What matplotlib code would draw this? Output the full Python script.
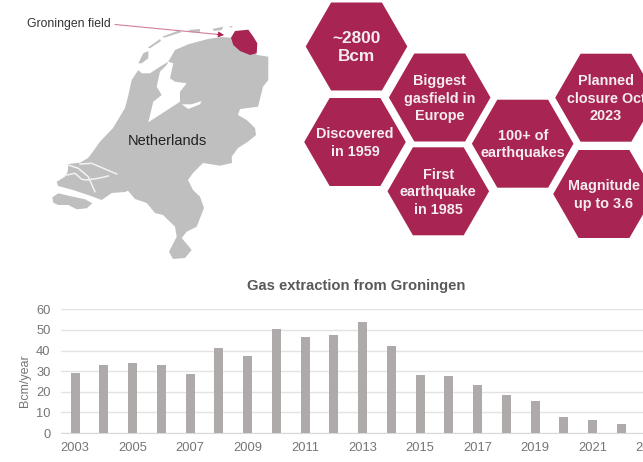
import matplotlib
matplotlib.use("Agg")
import matplotlib.pyplot as plt
from matplotlib.patches import Polygon, RegularPolygon

plt.rcParams["font.family"] = ["Liberation Sans", "DejaVu Sans"]

years = list(range(2003, 2023))
extraction = [29.1, 32.8, 33.8, 33.2, 28.8, 41.3, 37.5, 50.6, 46.8, 47.7,
              54.0, 42.4, 28.0, 27.5, 23.5, 18.6, 15.4, 7.8, 6.3, 4.4]
tick_years = list(range(2003, 2024, 2))
y_ticks = [0, 10, 20, 30, 40, 50, 60]

hex_labels = ["~2800\nBcm", "Biggest\ngasfield in\nEurope", "Discovered\nin 1959",
              "First\nearthquake\nin 1985", "100+ of\nearthquakes",
              "Planned\nclosure Oct\n2023", "Magnitude\nup to 3.6"]
hex_x = [356.5, 439.7, 355, 438.3, 522.7, 606, 604]
hex_y = [46.5, 97.5, 142, 191.3, 143.7, 97.7, 194]
hex_size = [12.4, 10.4, 10.4, 10.4, 10.4, 10.4, 10.4]

# map outlines, traced in pixels
main_land = [(168.3, 61.7), (175, 50), (188.3, 44.3), (208, 39), (221.7, 37), (231, 37.7),
             (257.3, 55), (268.3, 56.7), (268.3, 80), (263, 86.7), (258, 106.7), (240, 109),
             (238, 115), (246.7, 120), (255, 128), (256, 135), (248, 141.7), (238, 148),
             (231.7, 156.7), (232, 163), (220, 165.7), (203, 163), (193, 173), (188, 180),
             (193, 190), (200, 196.7), (204, 208), (196.7, 226.7), (186.7, 231.7),
             (181.7, 238), (191.7, 250), (185, 258), (173, 259), (169, 251.7), (176.7, 236.7),
             (175, 226.7), (163, 215), (155, 213), (146.7, 203), (135, 199), (128, 190.7),
             (125, 192), (111.7, 193), (101.7, 200), (88, 195), (73, 190), (58, 186),
             (56.7, 181.7), (65, 176.7), (67.7, 171.7), (68.3, 164), (80, 162.7), (88, 158),
             (91.7, 153.3), (100, 141.7), (113, 128), (125, 108), (128, 96.7), (131.7, 80),
             (138.3, 70), (141.7, 73.3), (150, 73.3), (160, 66.7)]
south_island = [(52.3, 197.3), (58.3, 193.3), (70, 196), (85, 199.3), (92.3, 203.3),
                (86.7, 208.3), (76.7, 209.3), (68.3, 205), (58.3, 205), (53.3, 202.7)]
wadden = [[(138.3, 63.3), (143.3, 53.3), (148.3, 51), (148.3, 58.3), (141.7, 63.3)],
          [(147.7, 47.7), (160, 39), (161, 41), (150, 48.3)],
          [(162.3, 36.7), (180, 30), (181, 32.3), (164.3, 37.7)],
          [(188.3, 30), (200, 29), (200, 31.7), (191.7, 32.3)],
          [(212.3, 29), (223.3, 26.7), (221.7, 30), (214.3, 31)],
          [(228.3, 26.7), (232.3, 26), (232.3, 27.7)]]
lakes = [[(168.3, 61.7), (173.3, 63.3), (170, 78.3), (175, 81.7), (186.7, 83.3), (180, 91.7),
          (180, 101.7), (148.3, 122.3), (153.3, 101.7), (161.7, 95), (156.7, 86.7),
          (160, 71.7), (166.7, 65)],
         [(181.7, 104.3), (191.7, 104.3), (201.7, 101), (200, 104.3), (188.3, 109)]]
estuaries = [[(116.7, 174), (103.3, 168.3), (91.7, 163.3), (80, 164)],
             [(68.3, 165), (78.3, 168.3), (88.3, 176.7), (95, 191.7)],
             [(66.7, 175), (75, 173.3), (81.7, 179.3), (86.7, 180), (98.3, 178.3), (108.3, 176)]]
field = [(231, 37.7), (235, 31), (248.3, 29.7), (253.3, 36.7), (257.3, 43.3), (256.7, 53.3),
         (250, 55), (240, 51), (233.3, 45)]

crimson = "#A82452"
W, H = 643, 462

fig = plt.figure(figsize=(W / 100, H / 100), dpi=100)

# overlay in pixel coordinates for map and hexagons
top = fig.add_axes([0, 0, 1, 1])
top.set_xlim(0, W)
top.set_ylim(H, 0)
top.axis("off")

for poly in [main_land, south_island] + wadden:
    top.add_patch(Polygon(poly, closed=True, fc="#BFBFBF", ec="none"))
for poly in lakes:
    top.add_patch(Polygon(poly, closed=True, fc="white", ec="none"))
for line in estuaries:
    top.plot([p[0] for p in line], [p[1] for p in line], color="#F2F2F2", lw=1.1)
top.add_patch(Polygon(field, closed=True, fc=crimson, ec="none"))

# pale leader line, darker head
top.plot([115, 220], [24.5, 34.6], color="#D07F9C", lw=0.8)
top.annotate("", xy=(224, 35), xytext=(217, 34.3),
             arrowprops=dict(arrowstyle="-|>", color=crimson, lw=0.5, mutation_scale=9,
                             shrinkA=0, shrinkB=0))
top.text(27, 24.5, "Groningen field", fontsize=8.8, color="#333333", va="center", ha="left")
top.text(167.5, 141, "Netherlands", fontsize=10.5, color="#222222", va="center", ha="center")

for label, cx, cy, size in zip(hex_labels, hex_x, hex_y, hex_size):
    # orientation pi/6 gives flat top and bottom
    top.add_patch(RegularPolygon((cx, cy), 6, radius=50.8, orientation=3.14159265 / 6,
                                 fc=crimson, ec="none"))
    top.text(cx, cy + 1, label, fontsize=size, fontweight="bold", color="#F5ECEF",
             ha="center", va="center", linespacing=1.32)

# bar chart, runs past the right edge of the figure like the original
left, right, y_top, y_bottom = 60.6, 660, 309.3, 433
ax = fig.add_axes([left / W, 1 - y_bottom / H, (right - left) / W, (y_bottom - y_top) / H])
ax.patch.set_alpha(0)
ax.bar(years, extraction, width=9 / 28.75, color="#AEAAAA", zorder=3)
ax.set_xlim(2003 - (75 - left) / 28.75, 2003 + (right - 75) / 28.75)
ax.set_ylim(0, 60)
ax.set_xticks(tick_years)
ax.set_yticks(y_ticks)
ax.tick_params(length=0, labelsize=9.3, labelcolor="#757575")
ax.tick_params(axis="x", pad=6.5)
ax.tick_params(axis="y", pad=7.3)
ax.grid(axis="y", color="#E3E3E3", lw=1)
ax.set_axisbelow(True)
for side in ["top", "left", "right"]:
    ax.spines[side].set_visible(False)
ax.spines["bottom"].set_color("#D9D9D9")

top.text(25, 381, "Bcm/year", fontsize=9, color="#757575", rotation=90,
         ha="center", va="center")
top.text(356.5, 286, "Gas extraction from Groningen", fontsize=10.6, fontweight="bold",
         color="#595959", ha="center", va="center")

fig.savefig("out.png", dpi=100)
